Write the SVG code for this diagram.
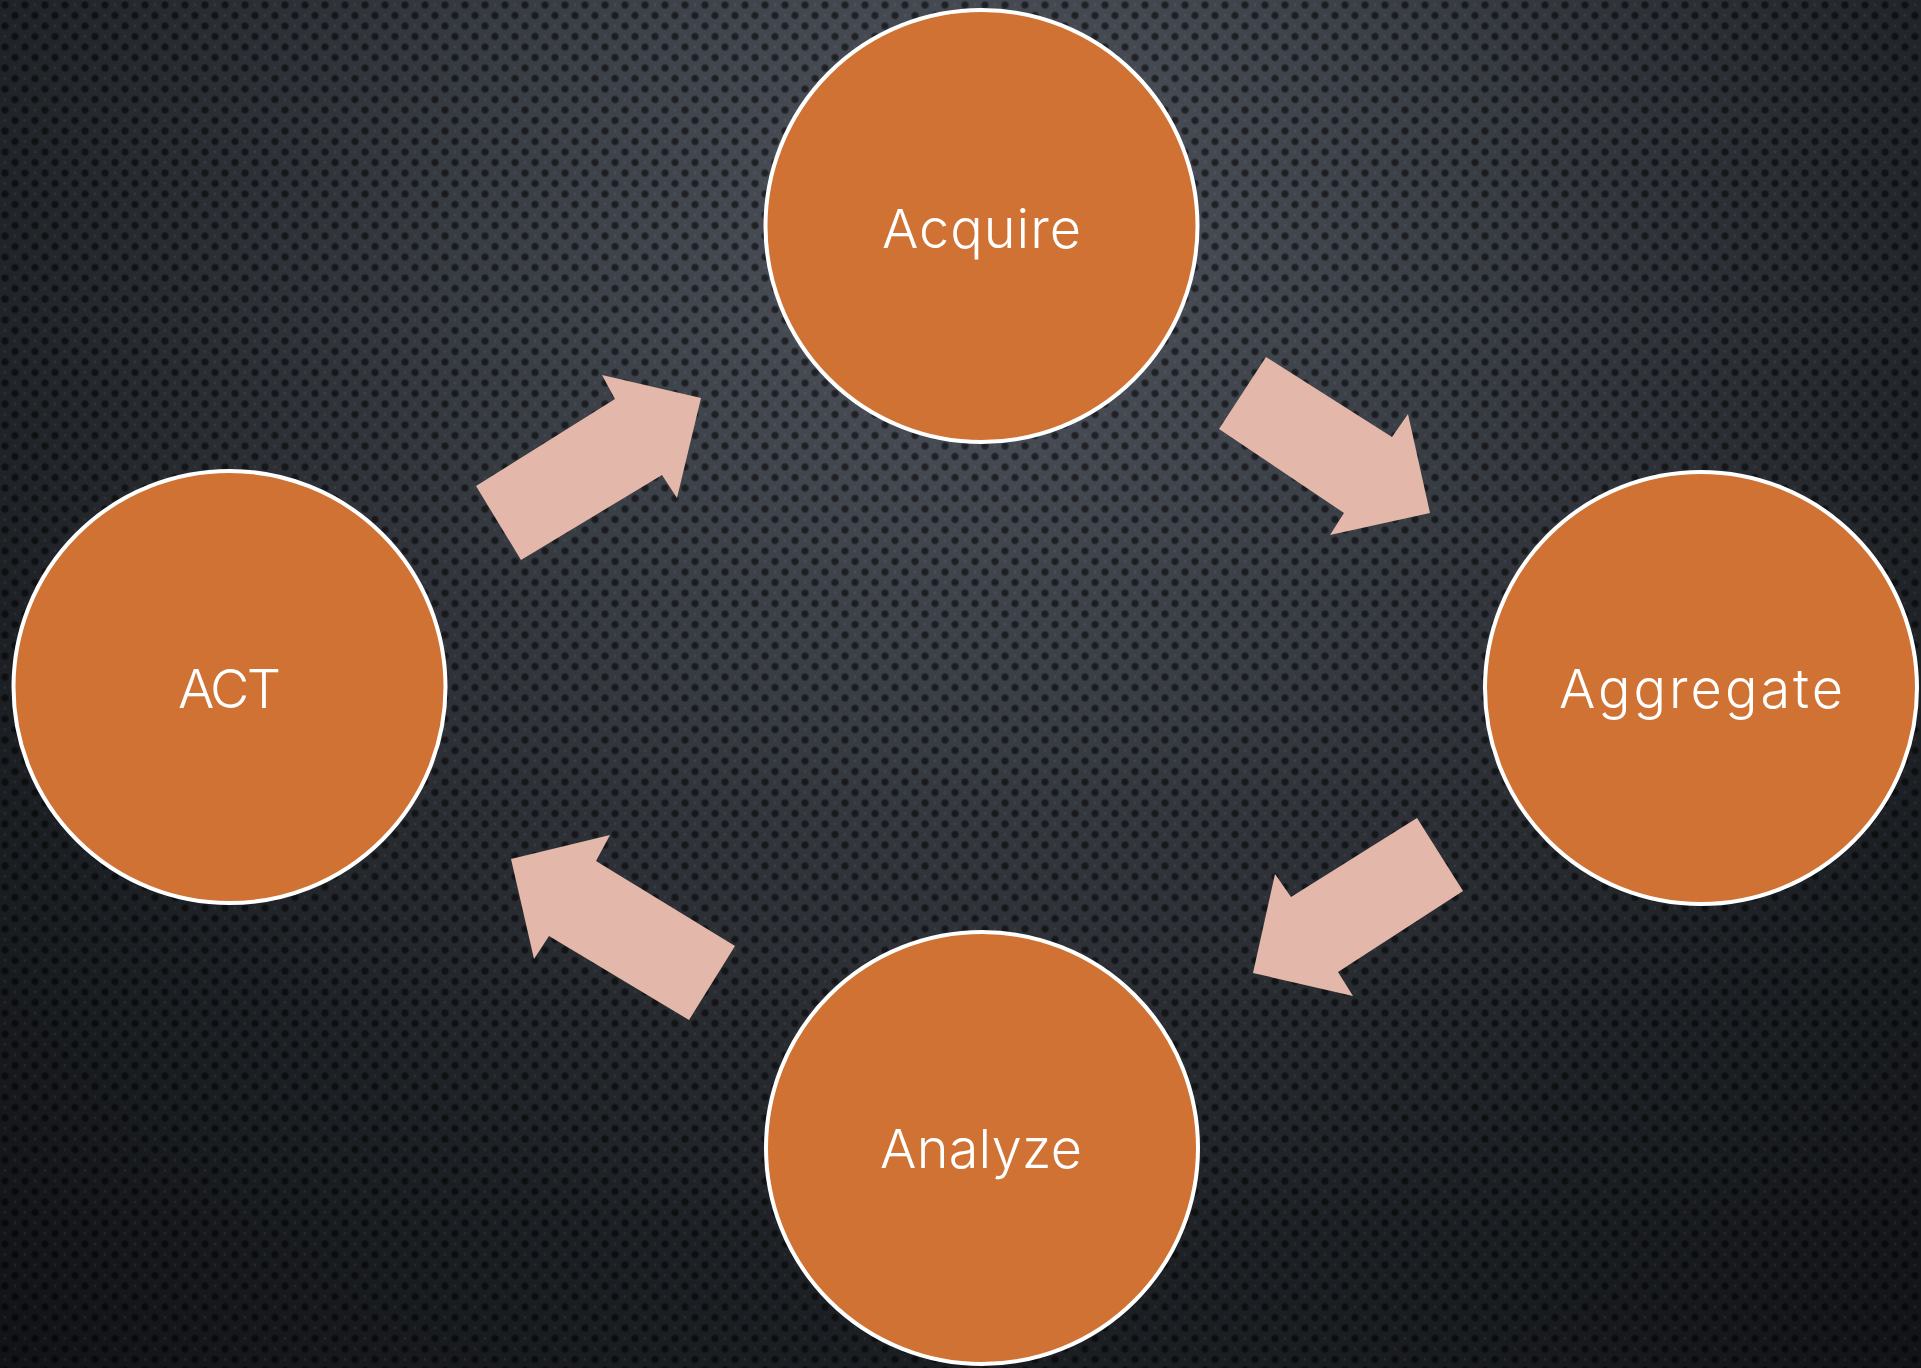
<svg xmlns="http://www.w3.org/2000/svg" width="1921" height="1368" viewBox="0 0 1921 1368">
  <defs>
    <radialGradient id="bg" cx="980" cy="230" r="1500" gradientUnits="userSpaceOnUse">
      <stop offset="0" stop-color="#4f545e"/>
      <stop offset="0.35" stop-color="#373b42"/>
      <stop offset="0.7" stop-color="#1d2024"/>
      <stop offset="1" stop-color="#111316"/>
    </radialGradient>
    <radialGradient id="dot">
      <stop offset="0" stop-color="#000" stop-opacity="0.6"/>
      <stop offset="0.6" stop-color="#000" stop-opacity="0.5"/>
      <stop offset="1" stop-color="#000" stop-opacity="0"/>
    </radialGradient>
    <pattern id="dots" width="20" height="21" patternUnits="userSpaceOnUse">
      <circle cx="5" cy="5" r="4.6" fill="url(#dot)"/>
      <circle cx="15" cy="15.5" r="4.6" fill="url(#dot)"/>
      <circle cx="15" cy="5" r="1.4" fill="#fff" fill-opacity="0.05"/>
      <circle cx="5" cy="15.5" r="1.4" fill="#fff" fill-opacity="0.05"/>
    </pattern>
    <style>
      .node circle { fill: #cf7233; stroke: #ffffff; stroke-width: 4; }
      .node text { fill: #ffffff; font-family: Inter, "DejaVu Sans", "Liberation Sans", sans-serif; font-weight: 300; font-size: 54px; text-anchor: middle; }
      .arrow { fill: #e3b8aa; }
    </style>
  </defs>
  <rect width="1921" height="1368" fill="url(#bg)"/>
  <rect width="1921" height="1368" fill="url(#dots)"/>

  <g id="connectors">
    <polygon class="arrow" points="476,486 615,399 602,375 701,398 677,498 662,475 521,560"/>
    <polygon class="arrow" points="1266,357 1392,437 1408,414 1430,513 1330,535 1344,513 1219,429"/>
    <polygon class="arrow" points="1417,818 1463,891 1338,972 1353,996 1253,973 1275,874 1291,897"/>
    <polygon class="arrow" points="735,946 689,1020 549,936 534,959 511,859 610,835 596,861"/>
  </g>

  <g id="node-acquire" class="node">
    <circle cx="981.5" cy="226" r="216"/>
    <text x="981.5" y="248" textLength="199">Acquire</text>
  </g>
  <g id="node-aggregate" class="node">
    <circle cx="1701" cy="688" r="216"/>
    <text x="1701" y="708" textLength="284">Aggregate</text>
  </g>
  <g id="node-analyze" class="node">
    <circle cx="982" cy="1148" r="216"/>
    <text x="981" y="1168" textLength="202">Analyze</text>
  </g>
  <g id="node-act" class="node">
    <circle cx="229.5" cy="687" r="216"/>
    <text x="229.5" y="708" textLength="103">ACT</text>
  </g>
</svg>
